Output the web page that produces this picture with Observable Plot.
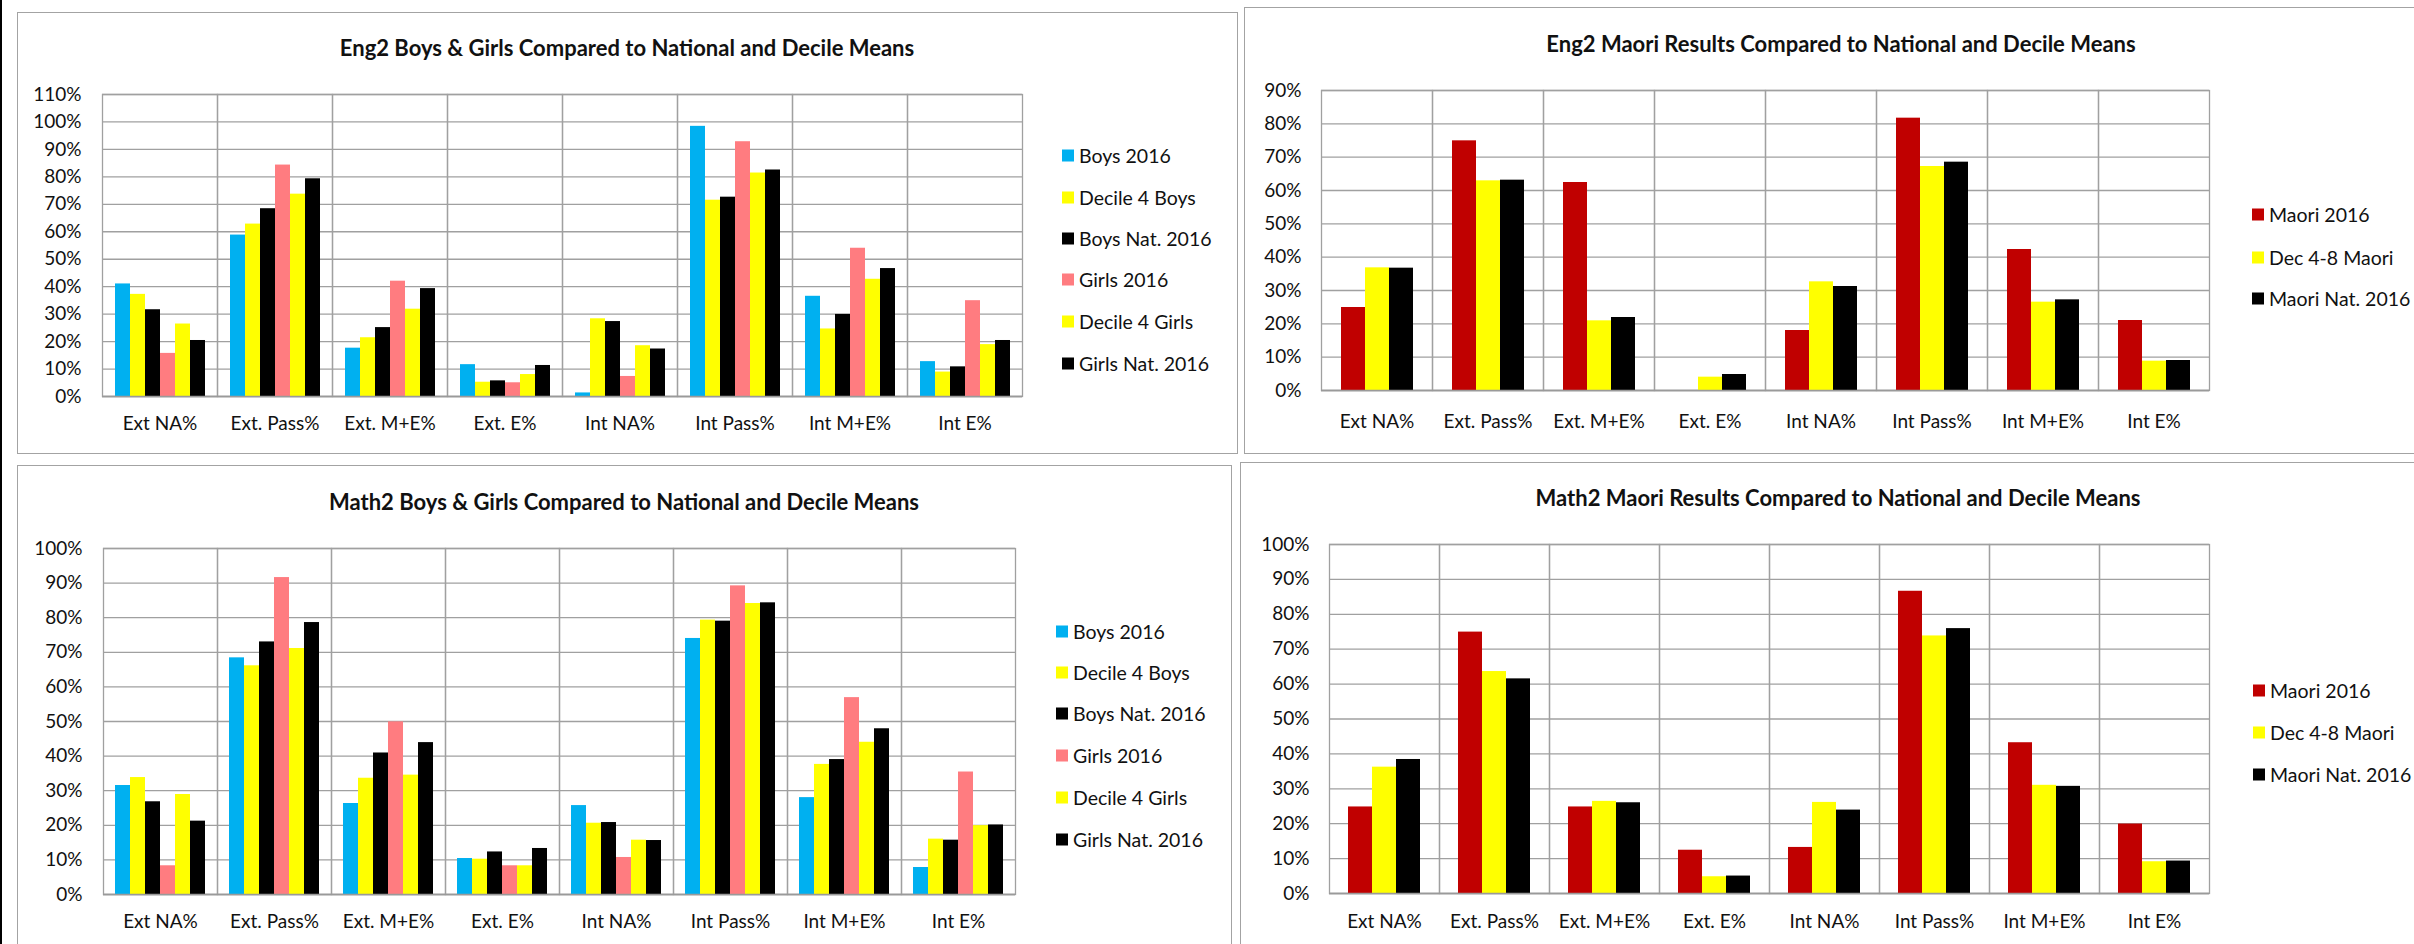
<!DOCTYPE html>
<html>
<head>
<meta charset="utf-8">
<script src="https://cdn.jsdelivr.net/npm/d3@7"></script>
<script src="https://cdn.jsdelivr.net/npm/@observablehq/plot@0.6"></script>
<style>
  body { margin: 0; background: #fff; font-family: Lato, "Open Sans", sans-serif; }
  #page { position: relative; width: 2414px; height: 944px; overflow: hidden; background: #fff; }
  .frame { position: absolute; border: 1.5px solid #a3a3a3; box-sizing: border-box; }
  .sheet-edge { position: absolute; left: 0; top: 0; width: 2px; height: 944px; background: #000; }
  .title { position: absolute; transform: translate(-50%, -50%); font-weight: 700; font-size: 22px; white-space: nowrap; color: #111; }
  .legend-row { position: absolute; display: flex; align-items: center; font-size: 19.5px; transform: translateY(-50%); white-space: nowrap; color: #111; }
  .swatch { width: 12px; height: 12px; margin-right: 5px; }
  .chart { position: absolute; }
</style>
</head>
<body>
<div id="page"></div>
<script>
// Assessment categories along the x axis
const categories = ["Ext NA%", "Ext. Pass%", "Ext. M+E%", "Ext. E%", "Int NA%", "Int Pass%", "Int M+E%", "Int E%"];

// Series for the boys & girls charts
const genderSeries = ["Boys 2016", "Decile 4 Boys", "Boys Nat. 2016", "Girls 2016", "Decile 4 Girls", "Girls Nat. 2016"];
const genderColors = ["#00B0F0", "#FFFF00", "#000000", "#FF7C80", "#FFFF00", "#000000"];

// Series for the Maori charts
const maoriSeries = ["Maori 2016", "Dec 4-8 Maori", "Maori Nat. 2016"];
const maoriColors = ["#C00000", "#FFFF00", "#000000"];

// Eng2 boys & girls (share of students, by category)
const eng2Boys2016     = [0.410, 0.588, 0.176, 0.116, 0.013, 0.984, 0.365, 0.127];
const eng2Decile4Boys  = [0.372, 0.628, 0.214, 0.052, 0.283, 0.715, 0.246, 0.089];
const eng2BoysNat      = [0.316, 0.684, 0.251, 0.057, 0.273, 0.726, 0.299, 0.108];
const eng2Girls2016    = [0.157, 0.843, 0.420, 0.050, 0.073, 0.928, 0.540, 0.349];
const eng2Decile4Girls = [0.264, 0.737, 0.318, 0.080, 0.185, 0.814, 0.427, 0.189];
const eng2GirlsNat     = [0.204, 0.793, 0.393, 0.113, 0.173, 0.825, 0.466, 0.204];

// Eng2 Maori
const eng2Maori2016    = [0.249, 0.749, 0.624, 0.000, 0.180, 0.817, 0.423, 0.210];
const eng2MaoriDecile  = [0.368, 0.629, 0.209, 0.040, 0.326, 0.672, 0.265, 0.088];
const eng2MaoriNat     = [0.367, 0.631, 0.219, 0.048, 0.312, 0.685, 0.272, 0.090];

// Math2 boys & girls
const math2Boys2016     = [0.315, 0.684, 0.263, 0.104, 0.257, 0.740, 0.280, 0.078];
const math2Decile4Boys  = [0.338, 0.661, 0.336, 0.102, 0.206, 0.793, 0.376, 0.160];
const math2BoysNat      = [0.268, 0.730, 0.409, 0.123, 0.208, 0.790, 0.390, 0.157];
const math2Girls2016    = [0.083, 0.916, 0.499, 0.083, 0.107, 0.892, 0.569, 0.354];
const math2Decile4Girls = [0.289, 0.711, 0.345, 0.083, 0.157, 0.841, 0.440, 0.199];
const math2GirlsNat     = [0.212, 0.786, 0.439, 0.133, 0.156, 0.843, 0.479, 0.201];

// Math2 Maori
const math2Maori2016   = [0.248, 0.749, 0.248, 0.124, 0.132, 0.866, 0.432, 0.199];
const math2MaoriDecile = [0.362, 0.636, 0.264, 0.048, 0.261, 0.738, 0.310, 0.091];
const math2MaoriNat    = [0.384, 0.615, 0.260, 0.050, 0.239, 0.759, 0.307, 0.093];

const page = document.getElementById("page");

function tidy(series, valueLists) {
  const rows = [];
  series.forEach((s, i) => {
    categories.forEach((c, j) => rows.push({category: c, series: s, value: valueLists[i][j]}));
  });
  return rows;
}

function addDiv(cls, style, text) {
  const d = document.createElement("div");
  d.className = cls;
  Object.assign(d.style, style);
  if (text != null) d.textContent = text;
  page.appendChild(d);
  return d;
}

function drawPanel(cfg) {
  // panel frame
  addDiv("frame", {left: cfg.frame[0] + "px", top: cfg.frame[1] + "px", width: cfg.frame[2] + "px", height: cfg.frame[3] + "px"});
  // title
  addDiv("title", {left: cfg.titlePos[0] + "px", top: cfg.titlePos[1] + "px"}, cfg.title);

  const ticks = d3.range(0, Math.round(cfg.yMax * 10) + 1).map(i => i / 10);
  const rows = tidy(cfg.series, cfg.values);
  const [L, T, R, B] = cfg.plotArea;
  const [sx, sy, sw, sh] = cfg.svgBox;

  const chart = Plot.plot({
    width: sw,
    height: sh,
    marginLeft: L - sx,
    marginTop: T - sy,
    marginRight: sx + sw - R,
    marginBottom: sy + sh - B,
    style: {fontFamily: "Lato, 'Open Sans', sans-serif", fontSize: "19px", color: "#111", background: "transparent", overflow: "visible"},
    fx: {domain: categories, padding: 0, label: null, axis: "bottom", tickSize: 0, tickPadding: cfg.labelPad},
    x: {domain: cfg.series, paddingInner: 0, paddingOuter: 0.75, axis: null},
    y: {domain: [0, cfg.yMax], ticks, tickFormat: d3.format(".0%"), label: null, tickSize: 0, tickPadding: cfg.tickPad},
    color: {domain: cfg.series, range: cfg.colors},
    marks: [
      Plot.gridY(ticks, {stroke: "#a0a0a0", strokeOpacity: 1, strokeWidth: 1.3}),
      Plot.frame({stroke: "#a0a0a0", strokeWidth: 1.3}),
      Plot.barY(rows, {fx: "category", x: "series", y: "value", fill: "series", inset: 0}),
      Plot.ruleY([0], {stroke: "#9a9a9a", strokeWidth: 1.5})
    ]
  });
  chart.classList.add("chart");
  chart.style.left = sx + "px";
  chart.style.top = sy + "px";
  page.appendChild(chart);

  // legend
  cfg.series.forEach((s, i) => {
    const row = addDiv("legend-row", {left: cfg.legendX + "px", top: cfg.legendY[i] + "px"});
    const sw = document.createElement("span");
    sw.className = "swatch";
    sw.style.background = cfg.colors[i];
    row.appendChild(sw);
    row.appendChild(document.createTextNode(s));
  });
}

addDiv("sheet-edge", {});

drawPanel({
  title: "Eng2 Boys & Girls Compared to National and Decile Means",
  frame: [17, 12, 1221, 442],
  titlePos: [627, 47],
  series: genderSeries, colors: genderColors,
  values: [eng2Boys2016, eng2Decile4Boys, eng2BoysNat, eng2Girls2016, eng2Decile4Girls, eng2GirlsNat],
  yMax: 1.1,
  plotArea: [102, 94, 1022, 396],
  svgBox: [20, 14, 1010, 430],
  tickPad: 21, labelPad: 20,
  legendX: 1062, legendY: [155, 197, 238, 279, 321, 363]
});

drawPanel({
  title: "Eng2 Maori Results Compared to National and Decile Means",
  frame: [1244, 7, 1300, 447],
  titlePos: [1841, 43],
  series: maoriSeries, colors: maoriColors,
  values: [eng2Maori2016, eng2MaoriDecile, eng2MaoriNat],
  yMax: 0.9,
  plotArea: [1318, 90, 2212, 390],
  svgBox: [1250, 10, 970, 434],
  tickPad: 20, labelPad: 24,
  legendX: 2252, legendY: [214, 257, 298]
});

drawPanel({
  title: "Math2 Boys & Girls Compared to National and Decile Means",
  frame: [17, 465, 1215, 600],
  titlePos: [624, 501],
  series: genderSeries, colors: genderColors,
  values: [math2Boys2016, math2Decile4Boys, math2BoysNat, math2Girls2016, math2Decile4Girls, math2GirlsNat],
  yMax: 1.0,
  plotArea: [102, 548, 1015, 894],
  svgBox: [20, 470, 1000, 474],
  tickPad: 21, labelPad: 20,
  legendX: 1056, legendY: [631, 672, 713, 755, 797, 839]
});

drawPanel({
  title: "Math2 Maori Results Compared to National and Decile Means",
  frame: [1240, 462, 1300, 600],
  titlePos: [1838, 497],
  series: maoriSeries, colors: maoriColors,
  values: [math2Maori2016, math2MaoriDecile, math2MaoriNat],
  yMax: 1.0,
  plotArea: [1325, 544, 2212, 893],
  svgBox: [1250, 466, 970, 478],
  tickPad: 20, labelPad: 21,
  legendX: 2253, legendY: [690, 732, 774]
});
</script>
</body>
</html>
